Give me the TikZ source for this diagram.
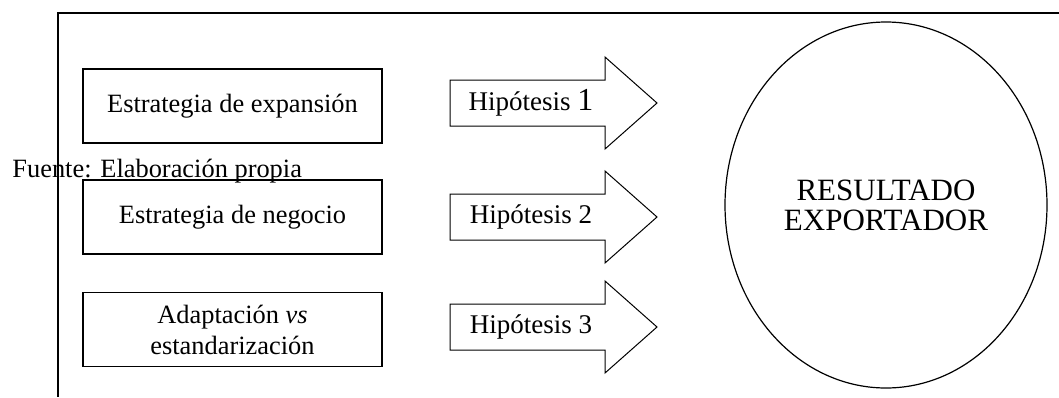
\documentclass[tikz,border=0pt]{standalone}
\usepackage{fontspec}
\setmainfont{Liberation Serif}
\usetikzlibrary{shapes.geometric}

\tikzset{
  factor/.style={draw,line width=0.85pt,minimum width=149.5pt,minimum height=37pt,
    inner sep=0pt,align=center,font=\fontsize{13.2}{15.5}\selectfont},
  hiparrow/.style={draw,line width=0.5pt,line join=miter},
  hiplabel/.style={inner sep=0pt,font=\fontsize{13.5}{16}\selectfont}
}

\begin{document}
\begin{tikzpicture}[x=0.5pt,y=-0.5pt]
    \useasboundingbox (0,0) rectangle (1059,397);

    % marco
    \draw[line width=0.8pt] (1059,13) -- (58,13) -- (58,397);

    \node[factor](exp)at(232.5,106){Estrategia de expansi\'on};
    \node[factor](neg)at(232.5,217){Estrategia de negocio};
    \node[factor](adap)at(232.5,329.5){Adaptaci\'on \textit{vs}\\estandarizaci\'on};

    \node[anchor=base west,inner sep=0pt,font=\fontsize{13.2}{15}\selectfont](fuente)at(12,177){Fuente: Elaboraci\'on propia};

    % flechas de hipotesis
    \foreach \y/\n in {103/1,217/2,327/3}{
      \draw[hiparrow] (450,\y-23) -- (605,\y-23) -- (605,\y-46) -- (657,\y)
        -- (605,\y+46) -- (605,\y+23) -- (450,\y+23) -- cycle;
    }
    \node[hiplabel](h1)at(531,103){Hip\'otesis {\fontsize{16}{16}\selectfont 1}};
    \node[hiplabel](h2)at(531,217){Hip\'otesis 2};
    \node[hiplabel](h3)at(531,327){Hip\'otesis 3};

    \node[draw,ellipse,line width=0.6pt,minimum width=161pt,minimum height=183pt,inner sep=0pt,
      align=center,font=\fontsize{15.5}{15}\selectfont](res)at(886,205){RESULTADO\\EXPORTADOR};
  \end{tikzpicture}
\end{document}
